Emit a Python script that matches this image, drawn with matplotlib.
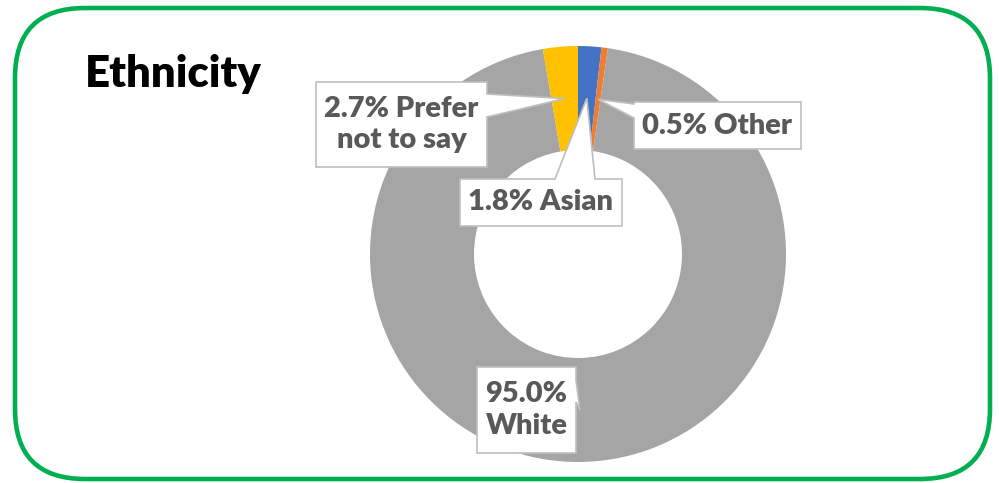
import numpy as np
import matplotlib
matplotlib.use('Agg')
import matplotlib.pyplot as plt
from matplotlib.patches import FancyBboxPatch, Polygon

# data
categories = ['Asian', 'Other', 'White', 'Prefer not to say']
values = [1.8, 0.5, 95.0, 2.7]
colors = ['#4472C4', '#ED7D31', '#A5A5A5', '#FFC000']
labels = ['1.8% Asian', '0.5% Other', '95.0%\nWhite', '2.7% Prefer\nnot to say']

W, H = 999, 483
plt.rcParams['font.family'] = ['Lato', 'DejaVu Sans']

fig = plt.figure(figsize=(W / 100, H / 100), dpi=100)
ax = fig.add_axes([0, 0, 1, 1])

def P(x, y):
    # pixel coords (origin top-left) -> data coords
    return (x, H - y)

cx, cy = P(578, 254)
R = 208
ring = 104

ax.pie(values, colors=colors, startangle=90, counterclock=False,
       center=(cx, cy), radius=R,
       wedgeprops=dict(width=ring, linewidth=0))

# tips of the callouts: middle of each slice, middle of the ring
frac = np.array(values) / sum(values)
mids = np.cumsum(frac) - frac / 2
ang = np.deg2rad(90 - mids * 360)
rmid = R - ring / 2
tips = [(cx + rmid * np.cos(a), cy + rmid * np.sin(a)) for a in ang]

# callout boxes: (x0, y0, x1, y1) in pixels, side with the pointer, pointer base
boxes = {
    'Asian': ((460, 179, 622, 226), 'top', (555, 595)),
    'Other': ((634, 102, 801, 149), 'left', (104, 118)),
    'White': ((477, 367, 576, 453), 'right', (380, 402)),
    'Prefer not to say': ((316, 82, 487, 167), 'right', (94, 117)),
}

def callout(box, side, base, tip):
    x0, y0, x1, y1 = box
    a, b = base
    tx, ty = tip
    pts = [P(x0, y0)]
    if side == 'top':
        pts += [P(a, y0), (tx, ty), P(b, y0)]
    pts.append(P(x1, y0))
    if side == 'right':
        pts += [P(x1, a), (tx, ty), P(x1, b)]
    pts += [P(x1, y1), P(x0, y1)]
    if side == 'left':
        pts += [P(x0, b), (tx, ty), P(x0, a)]
    return pts

for i, cat in enumerate(categories):
    box, side, base = boxes[cat]
    pts = callout(box, side, base, tips[i])
    ax.add_patch(Polygon(pts, closed=True, facecolor='white',
                         edgecolor='#BFBFBF', linewidth=1.2, zorder=3))
    x0, y0, x1, y1 = box
    ax.text((x0 + x1) / 2, H - (y0 + y1) / 2, labels[i], ha='center',
            va='center', fontsize=21, fontweight='heavy', color='#595959',
            linespacing=1.25, zorder=4)

# title
ax.text(*P(85, 87), 'Ethnicity', fontsize=31.5, fontweight='heavy',
        color='black', ha='left', va='baseline')

# green rounded frame
ax.add_patch(FancyBboxPatch(P(15, 479), 990 - 15, 479 - 8,
                            boxstyle='round,pad=0,rounding_size=70',
                            facecolor='none', edgecolor='#00B050',
                            linewidth=3.3, zorder=5))

ax.set_xlim(0, W)
ax.set_ylim(0, H)
ax.set_aspect('equal')
ax.axis('off')

plt.savefig('out.png', dpi=100)
plt.close('all')
